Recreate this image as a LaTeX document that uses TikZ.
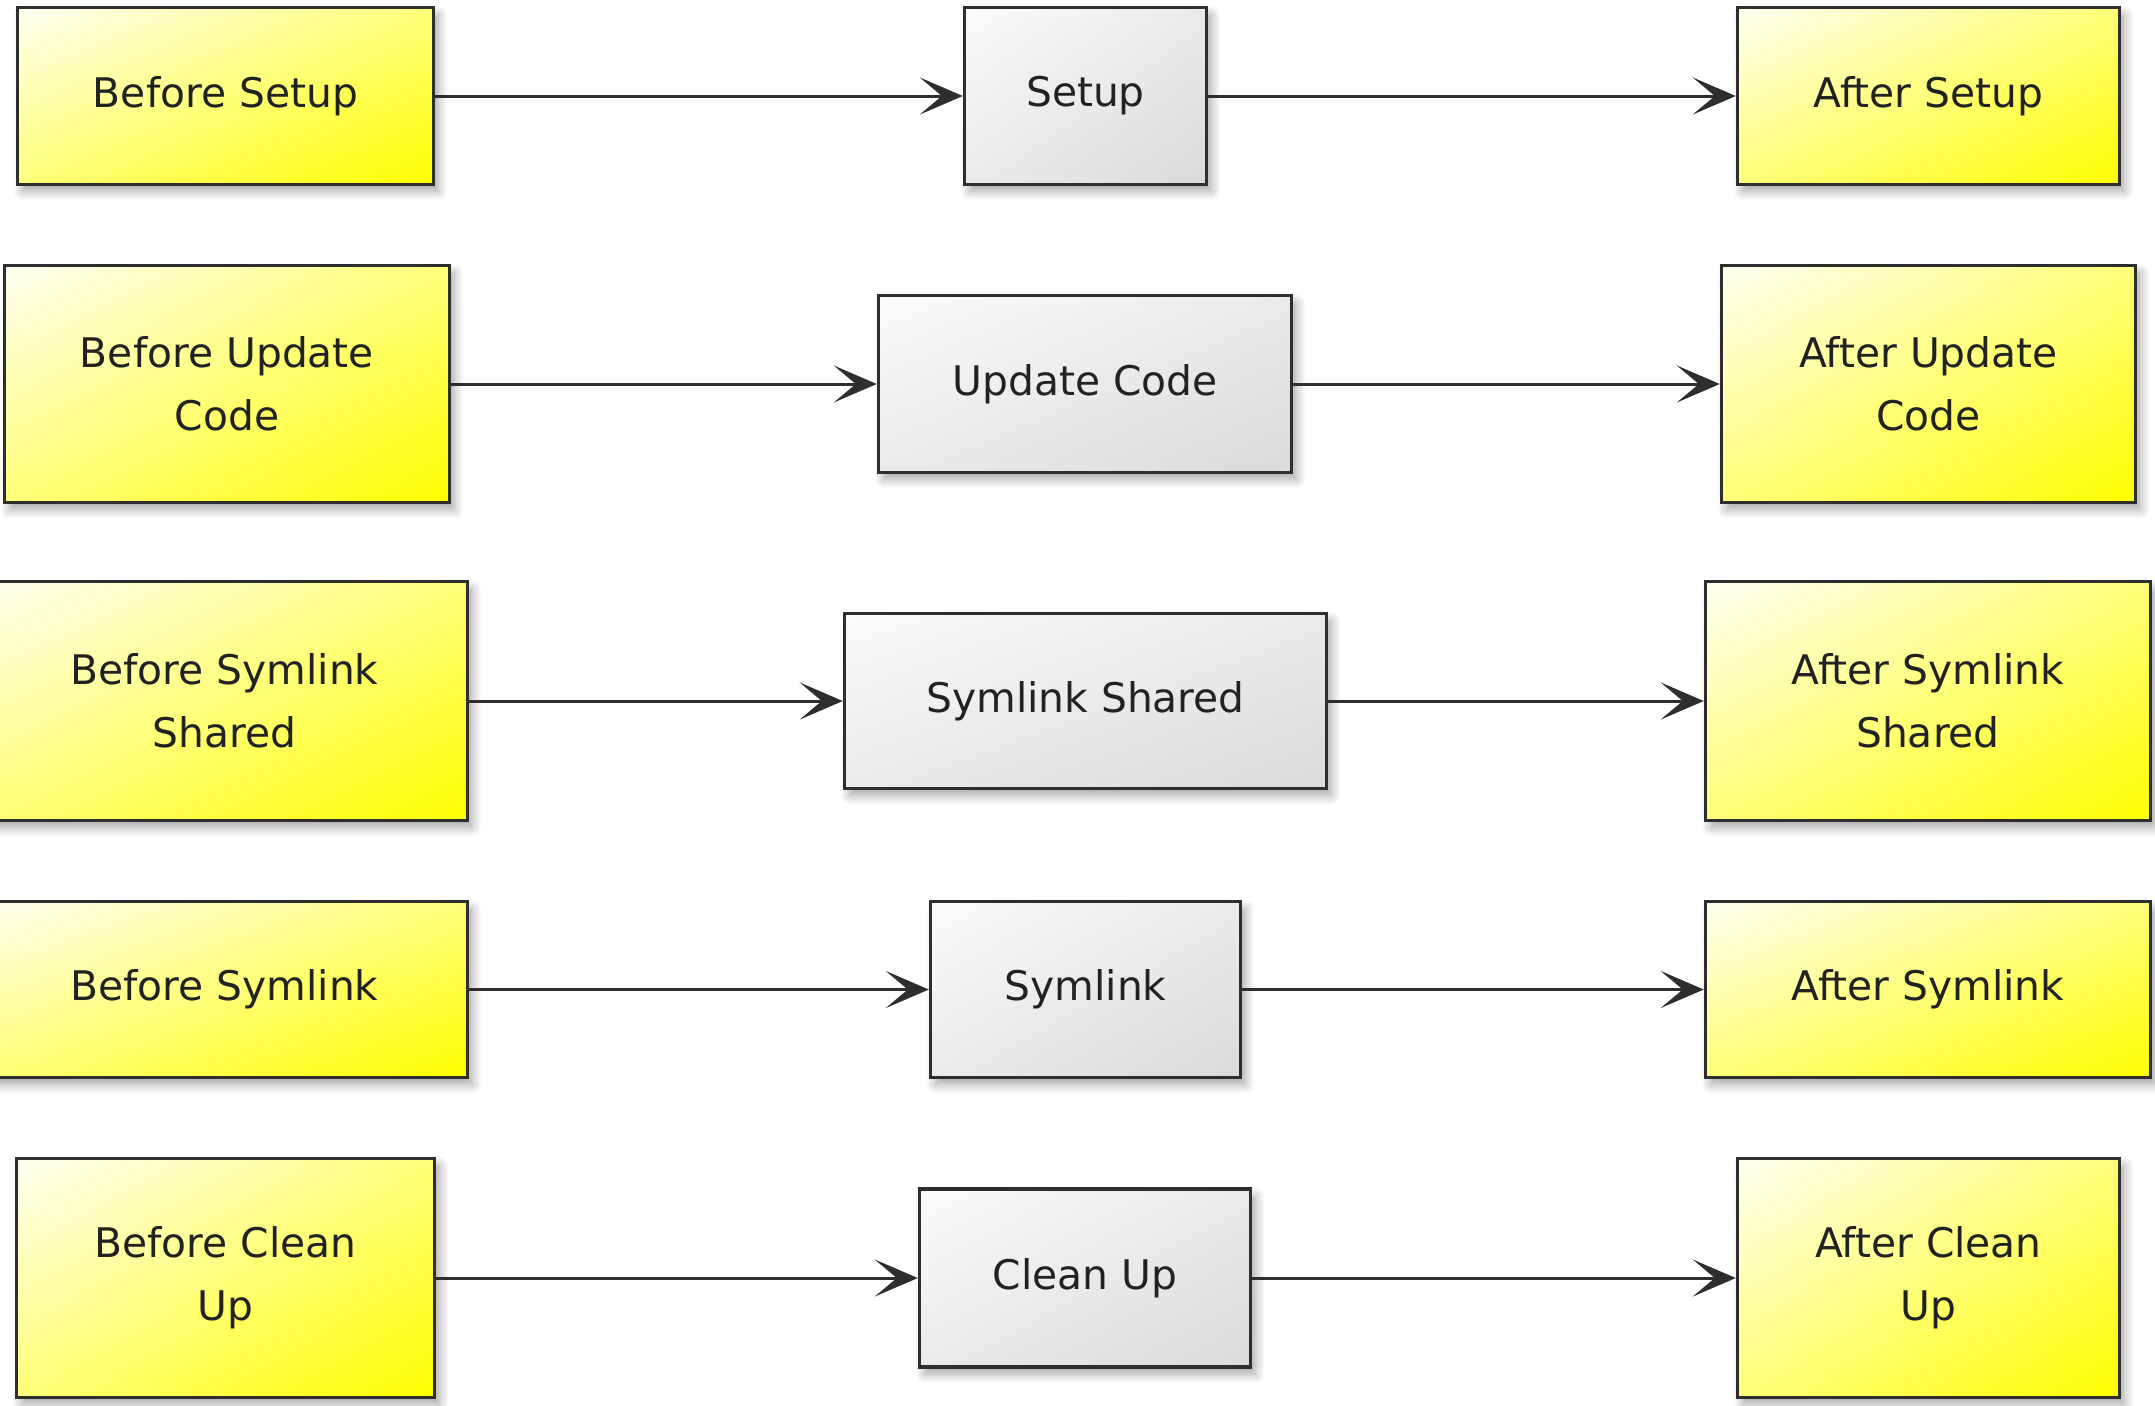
\documentclass[tikz,border=0pt]{standalone}
\usepackage{fontspec}
\setmainfont{DejaVu Sans}
\usetikzlibrary{arrows.meta,shadows.blur}

\definecolor{boxline}{HTML}{2E2E2E}
\definecolor{textdark}{HTML}{222222}

% Diagonal fills: light in the upper left corner, full colour in the lower right.
% The middle 50bp square of each shading is stretched over the box.
\pgfdeclarefunctionalshading{yellowdiag}{\pgfpoint{0bp}{0bp}}{\pgfpoint{100bp}{100bp}}{}{
  sub 50 add 100 div
  dup 0 lt {pop 0} if dup 1 gt {pop 1} if
  1 exch sub 0.95 mul
  1 1 3 2 roll
}
\pgfdeclarefunctionalshading{greydiag}{\pgfpoint{0bp}{0bp}}{\pgfpoint{100bp}{100bp}}{}{
  sub 50 add 100 div
  dup 0 lt {pop 0} if dup 1 gt {pop 1} if
  0.13 mul 0.985 exch sub
  dup dup
}

\tikzset{
  boxbase/.style={
    rectangle, draw=boxline, line width=0.032cm,
    inner sep=0pt, align=center, text=textdark,
    font=\fontsize{11.6pt}{17.9pt}\selectfont,
    blur shadow={shadow xshift=0.05cm, shadow yshift=-0.07cm,
                 shadow blur radius=0.09cm, shadow blur steps=10,
                 shadow opacity=35}
  },
  hookbox/.style={boxbase, shading=yellowdiag},
  taskbox/.style={boxbase, shading=greydiag},
  flow/.style={draw=boxline, line width=0.03cm,
    -{Stealth[length=0.43cm, width=0.37cm, inset=0.22cm]}}
}

\begin{document}
\begin{tikzpicture}[x=0.01cm, y=-0.01cm]
  \useasboundingbox (0,0) rectangle (2155,1405);

  % Setup
  \node[hookbox, minimum width=4.16cm, minimum height=1.77cm] (bs) at (225.5,96) {Before Setup};
  \node[taskbox, minimum width=2.42cm, minimum height=1.77cm] (s)  at (1085.5,96) {Setup};
  \node[hookbox, minimum width=3.82cm, minimum height=1.77cm] (as) at (1928.5,96) {After Setup};

  % Update code
  \node[hookbox, minimum width=4.45cm, minimum height=2.37cm] (buc) at (227,384) {Before Update\\Code};
  \node[taskbox, minimum width=4.13cm, minimum height=1.77cm] (uc)  at (1085,384) {Update Code};
  \node[hookbox, minimum width=4.14cm, minimum height=2.37cm] (auc) at (1928.5,384) {After Update\\Code};

  % Symlink shared
  \node[hookbox, minimum width=4.86cm, minimum height=2.39cm] (bss) at (224.5,701) {Before Symlink\\Shared};
  \node[taskbox, minimum width=4.82cm, minimum height=1.75cm] (ss)  at (1085.5,701) {Symlink Shared};
  \node[hookbox, minimum width=4.45cm, minimum height=2.39cm] (ass) at (1928,701) {After Symlink\\Shared};

  % Symlink
  \node[hookbox, minimum width=4.86cm, minimum height=1.76cm] (bsl) at (224.5,989.5) {Before Symlink};
  \node[taskbox, minimum width=3.10cm, minimum height=1.76cm] (sl)  at (1085.5,989.5) {Symlink};
  \node[hookbox, minimum width=4.45cm, minimum height=1.76cm] (asl) at (1928,989.5) {After Symlink};

  % Clean up
  \node[hookbox, minimum width=4.18cm, minimum height=2.39cm] (bcu) at (225.5,1278) {Before Clean\\Up};
  \node[taskbox, minimum width=3.31cm, minimum height=1.78cm] (cu)  at (1085,1278) {Clean Up};
  \node[hookbox, minimum width=3.82cm, minimum height=2.39cm] (acu) at (1928.5,1278) {After Clean\\Up};

  % Connectors
  \draw[flow] (bs)  -- (s);
  \draw[flow] (s)   -- (as);
  \draw[flow] (buc) -- (uc);
  \draw[flow] (uc)  -- (auc);
  \draw[flow] (bss) -- (ss);
  \draw[flow] (ss)  -- (ass);
  \draw[flow] (bsl) -- (sl);
  \draw[flow] (sl)  -- (asl);
  \draw[flow] (bcu) -- (cu);
  \draw[flow] (cu)  -- (acu);
\end{tikzpicture}
\end{document}
